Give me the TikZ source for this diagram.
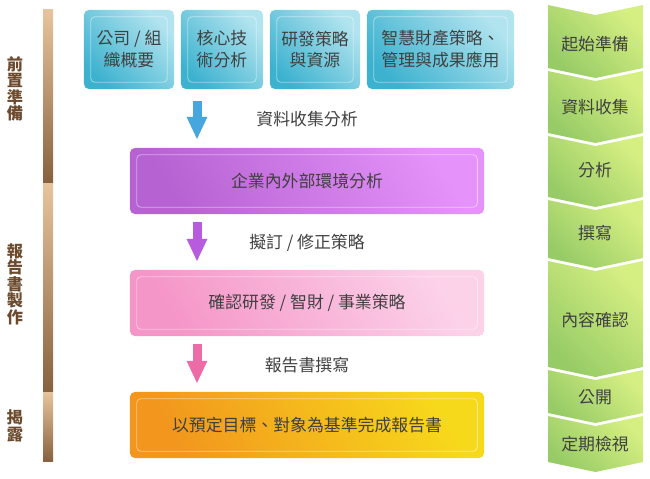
\documentclass[tikz,border=0pt]{standalone}
\usepackage{fontspec}
\setmainfont{Noto Sans CJK TC}
\usetikzlibrary{arrows.meta}

\definecolor{txtgray}{HTML}{404040}
\definecolor{brownT}{HTML}{6B4A2E}
\definecolor{cyanL}{HTML}{B2E4EF}
\definecolor{cyanD}{HTML}{3DB2CF}
\definecolor{purpL}{HTML}{E592FA}
\definecolor{purpD}{HTML}{B662D2}
\definecolor{pinkL}{HTML}{FCD2E9}
\definecolor{pinkD}{HTML}{F596C8}
\definecolor{orgL}{HTML}{F7D91C}
\definecolor{orgD}{HTML}{F2961D}
\definecolor{barL}{HTML}{E8C49C}
\definecolor{barD}{HTML}{886240}
\definecolor{greenL}{HTML}{D6EF82}
\definecolor{greenD}{HTML}{97CB66}
\definecolor{arrBlue}{HTML}{48A6DF}
\definecolor{arrPurp}{HTML}{B65CDC}
\definecolor{arrPink}{HTML}{EC6CA7}

\begin{document}
\begin{tikzpicture}[
        x=0.025cm, y=-0.025cm,
        every node/.style={
            font=\fontsize{12}{15.6}\selectfont,
            text=txtgray,
            align=center
        },
        box/.style={rounded corners=3.5pt, inner sep=0pt},
        cyanbox/.style={box, top color=cyanL, bottom color=cyanD, shading angle=-45,
            minimum height=1.975cm},
        mainbox/.style={box, minimum width=8.85cm, minimum height=1.65cm},
        innerline/.style={draw=white, draw opacity=0.45, line width=0.6pt, rounded corners=3pt},
        bigarrow/.style={line width=0.225cm, -{Triangle[length=0.57cm,width=0.475cm]},
            shorten <=0.2cm, shorten >=0.2cm},
        sidelabel/.style={font=\fontsize{11.5}{11.7}\selectfont\bfseries, text=brownT},
        phasebar/.style={top color=barL, bottom color=barD},
        chevron/.style={top color=greenL, bottom color=greenD, shading angle=-45}
    ]
        \useasboundingbox (0,0) rectangle (650,479);

        \shade[phasebar] (43,10) rectangle (53,182);
        \shade[phasebar] (43,183) rectangle (53,391);
        \shade[phasebar] (43,392) rectangle (53,461);

        \node[sidelabel] (prep) at (15,89) {前\\置\\準\\備};
        \node[sidelabel] (report) at (15,284) {報\\告\\書\\製\\作};
        \node[sidelabel] (disclose) at (15,426) {揭\\露};

        \node[cyanbox, minimum width=2.25cm] (b1) at (129,49.5) {公司 / 組\\織概要};
        \node[cyanbox, minimum width=2.05cm] (b2) at (222,49.5) {核心技\\術分析};
        \node[cyanbox, minimum width=2.25cm] (b3) at (315,49.5) {研發策略\\與資源};
        \node[cyanbox, minimum width=3.675cm] (b4) at (440.5,49.5) {智慧財產策略、\\管理與成果應用};

        \node[mainbox, top color=purpL, bottom color=purpD, shading angle=-60] (env) at (307,181) {企業內外部環境分析};
        \node[mainbox, top color=pinkL, bottom color=pinkD, shading angle=-60] (conf) at (307,303) {確認研發 / 智財 / 事業策略};
        \node[mainbox, top color=orgL, bottom color=orgD, shading angle=-60] (done) at (307,425) {以預定目標、對象為基準完成報告書};

        \foreach \n in {b1,b2,b3,b4,env,conf,done}
            \draw[innerline] ([shift={(7,7)}]\n.north west) rectangle ([shift={(-7,-7)}]\n.south east);

        \coordinate (axis) at (197,0);
        \draw[bigarrow, arrBlue, shorten <=0.3cm] (b1.south -| axis) -- (env.north -| axis);
        \draw[bigarrow, arrPurp] (env.south -| axis) -- (conf.north -| axis);
        \draw[bigarrow, arrPink] (conf.south -| axis) -- (done.north -| axis);

        \node (lbl1) at (307,119) {資料收集分析};
        \node (lbl2) at (307,243) {擬訂 / 修正策略};
        \node (lbl3) at (307,365) {報告書撰寫};

        \foreach \t/\b in {5/68, 71/133, 136/197, 200/258, 261/367, 370/413, 416/462}
            \shade[chevron] (548,\t) -- (595.5,\t+10) -- (643,\t) -- (643,\b)
                -- (595.5,\b+10) -- (548,\b) -- cycle;

        \node (s1) at (595,44) {起始準備};
        \node (s2) at (595,107) {資料收集};
        \node (s3) at (595,170) {分析};
        \node (s4) at (595,233) {撰寫};
        \node (s5) at (595,320) {內容確認};
        \node (s6) at (595,397) {公開};
        \node (s7) at (595,444) {定期檢視};
    \end{tikzpicture}
\end{document}
